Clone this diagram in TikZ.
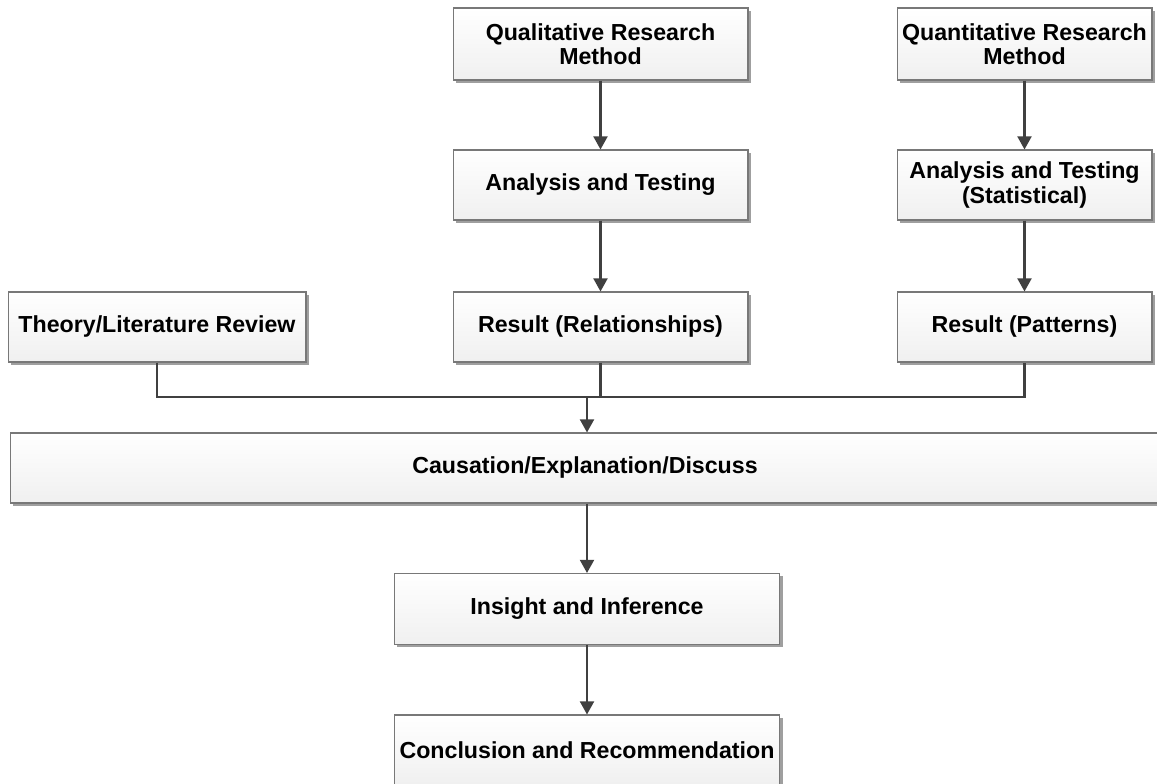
\documentclass[tikz,border=0pt]{standalone}
\usepackage{fontspec}
\setmainfont{Liberation Sans}
\usetikzlibrary{positioning,shadows,arrows.meta}
\definecolor{linegray}{RGB}{64,64,64}
\definecolor{boxedge}{RGB}{120,120,120}

\tikzset{
  flowbox/.style={draw=boxedge, line width=0.6pt, top color=white, bottom color=gray!12,
    align=center, font=\bfseries\fontsize{13.2}{13.8}\selectfont, inner sep=2pt,
    drop shadow={shadow xshift=1.6pt, shadow yshift=-1.6pt, fill=gray!75, opacity=1}},
  flowline/.style={draw=linegray, line width=1.2pt},
  flowarrow/.style={flowline, -{Triangle[width=8pt,length=7.5pt]}}
}

\begin{document}
\begin{tikzpicture}[x=0.02cm, y=-0.02cm]
        \useasboundingbox (0,0) rectangle (1157,784);

        \node[flowbox, minimum width=5.9cm, minimum height=1.44cm] (qual) at (600.5,44) {Qualitative Research\\Method};
        \node[flowbox, minimum width=5.1cm, minimum height=1.44cm] (quant) at (1024.5,44) {Quantitative Research\\Method};

        \node[flowbox, minimum width=5.9cm, minimum height=1.4cm] (anaqual) at (600.5,185) {Analysis and Testing};
        \node[flowbox, minimum width=5.1cm, minimum height=1.4cm] (anaquant) at (1024.5,185) {Analysis and Testing\\(Statistical)};

        \node[flowbox, minimum width=5.96cm, minimum height=1.4cm] (theory) at (157,327) {Theory/Literature Review};
        \node[flowbox, minimum width=5.9cm, minimum height=1.4cm] (resrel) at (600.5,327) {Result (Relationships)};
        \node[flowbox, minimum width=5.1cm, minimum height=1.4cm] (respat) at (1024.5,327) {Result (Patterns)};

        \node[flowbox, minimum width=23cm, minimum height=1.4cm] (cause) at (585,468) {Causation/Explanation/Discuss};
        \node[flowbox, minimum width=7.72cm, minimum height=1.42cm] (insight) at (587,609) {Insight and Inference};
        \node[flowbox, minimum width=7.72cm, minimum height=1.4cm] (concl) at (587,750) {Conclusion and Recommendation};

        % vertical flows
        \draw[flowarrow] (qual) -- (anaqual);
        \draw[flowarrow] (anaqual) -- (resrel);
        \draw[flowarrow] (quant) -- (anaquant);
        \draw[flowarrow] (anaquant) -- (respat);

        % merging the three results
        \coordinate (join) at (587,397);
        \draw[flowline] (theory.south) -- (theory.south |- join) -- (respat.south |- join) -- (respat.south);
        \draw[flowline] (resrel.south) -- (resrel.south |- join);
        \draw[flowarrow] (join) -- (join |- cause.north);

        \draw[flowarrow] (cause.south -| insight.north) -- (insight.north);
        \draw[flowarrow] (insight) -- (concl);
    \end{tikzpicture}
\end{document}
